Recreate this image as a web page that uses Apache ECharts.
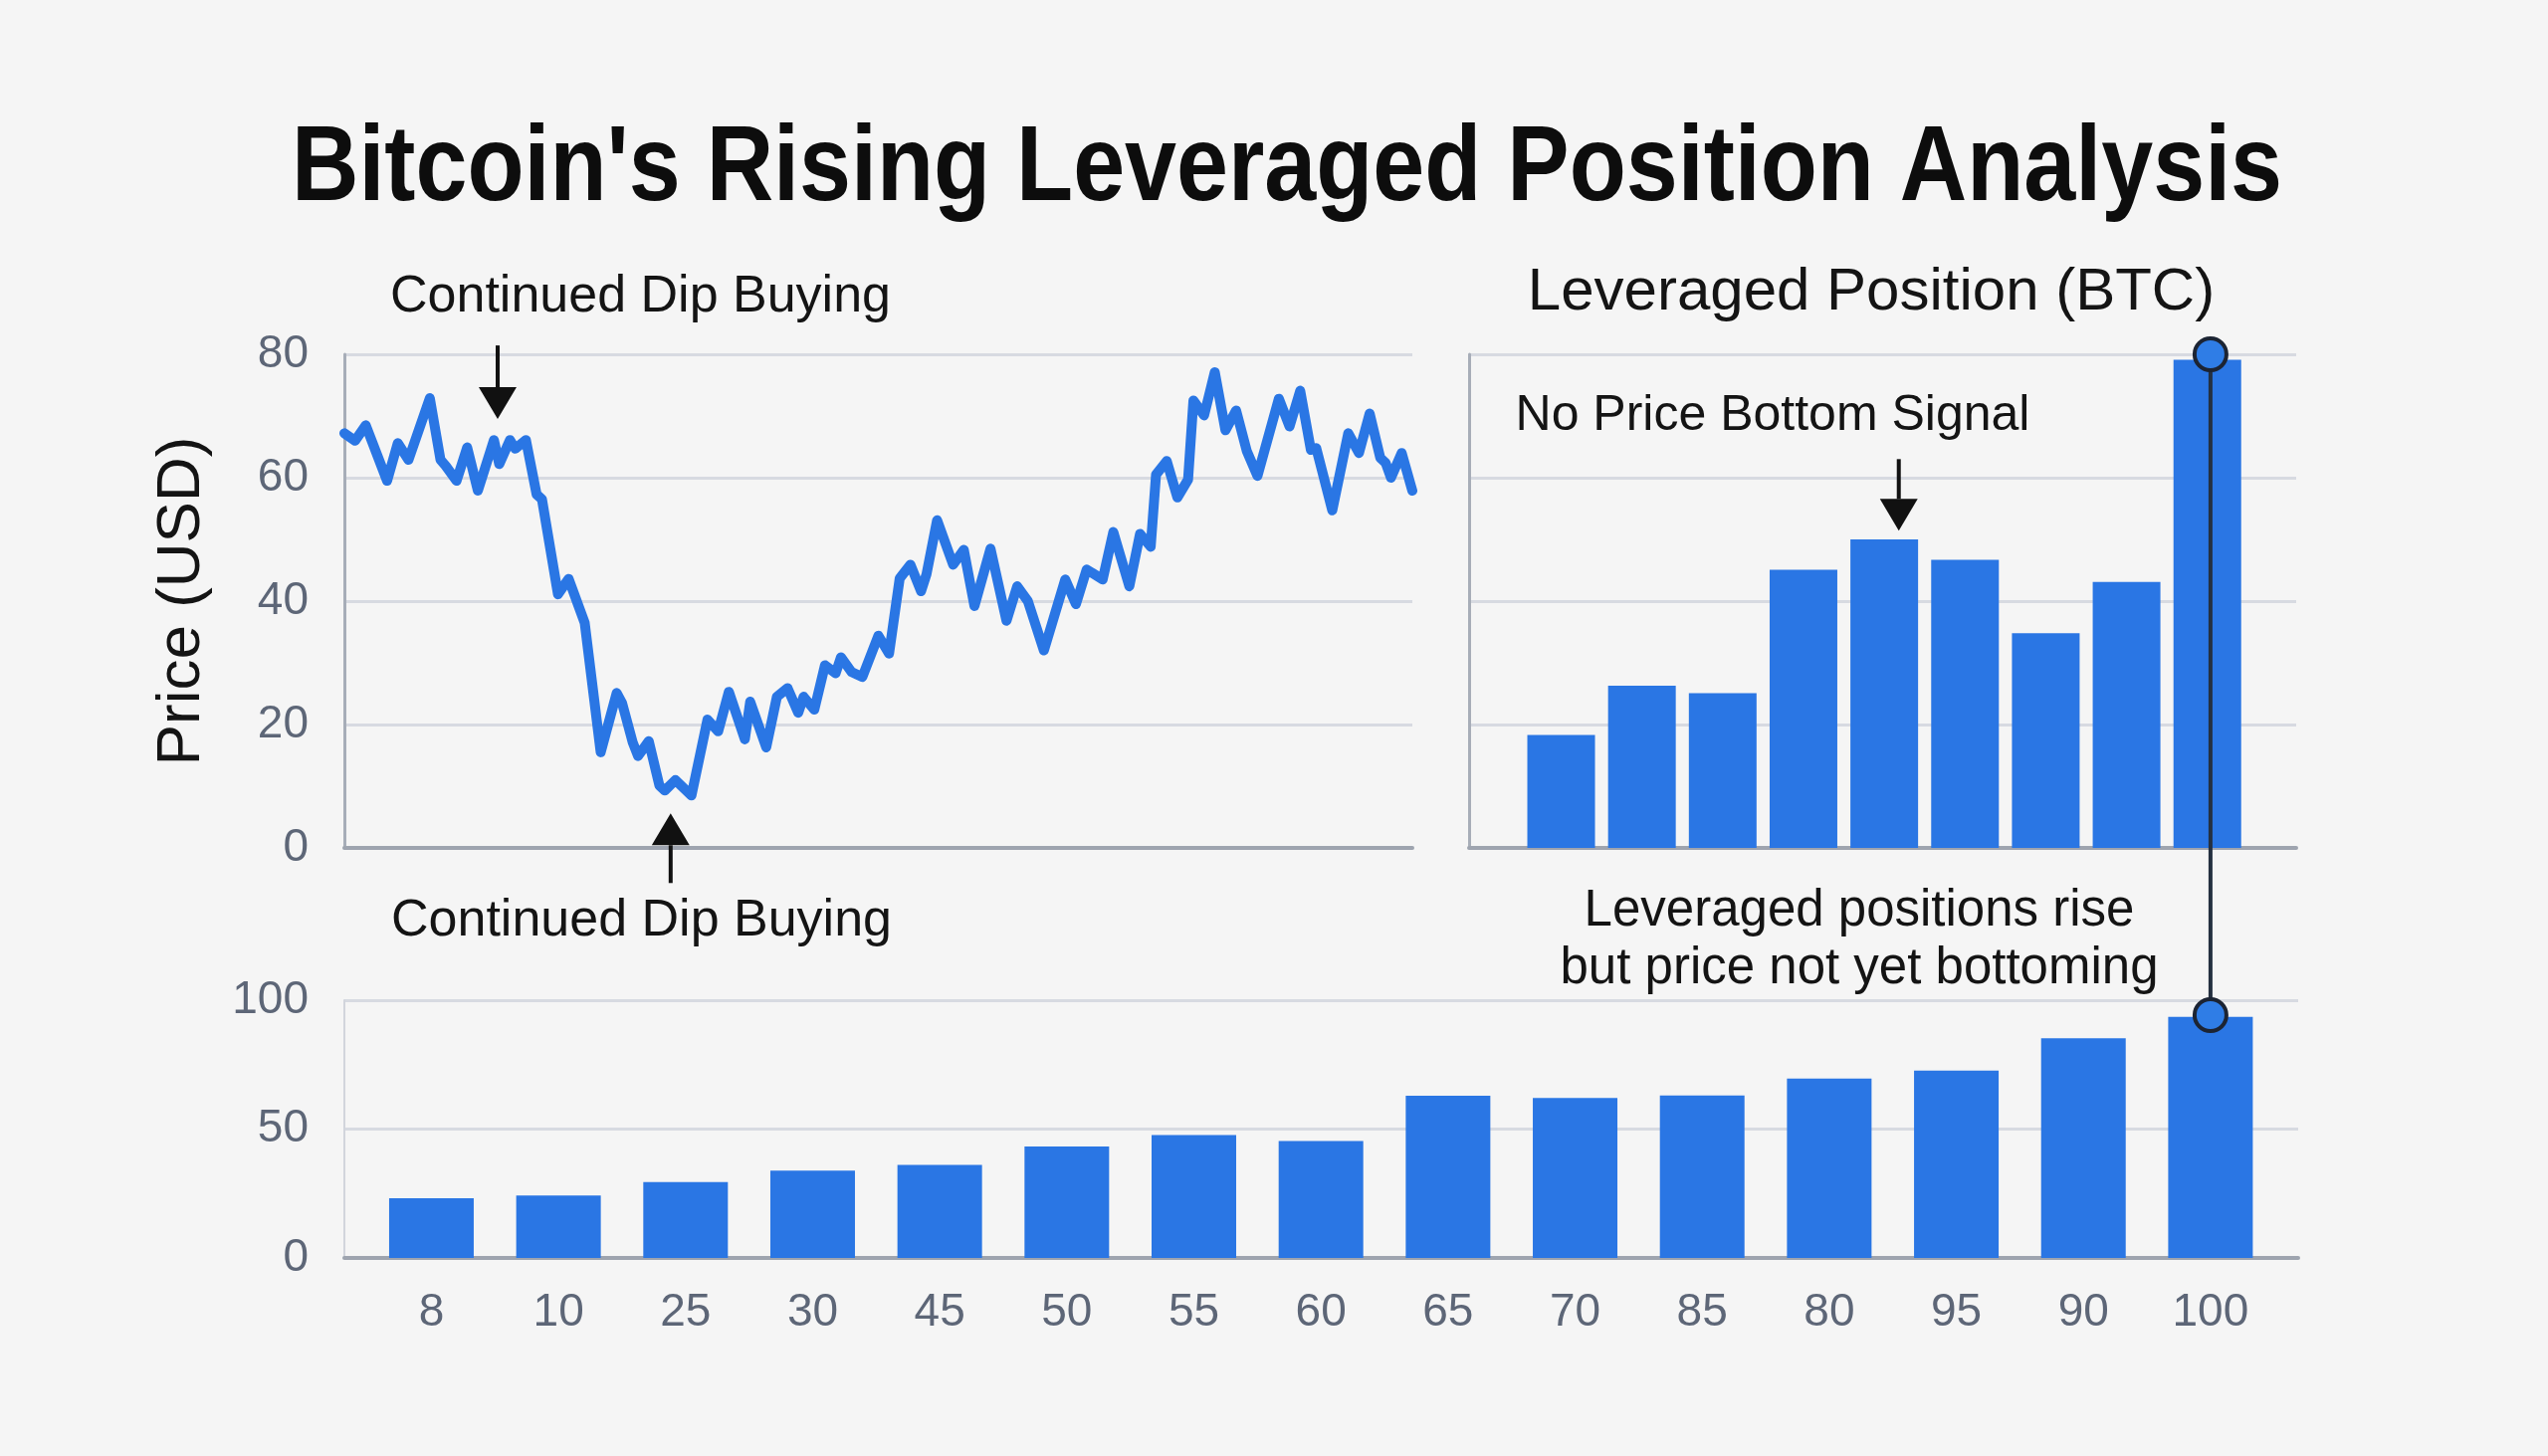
<!DOCTYPE html>
<html>
<head>
<meta charset="utf-8">
<title>Bitcoin's Rising Leveraged Position Analysis</title>
<script src="https://cdn.jsdelivr.net/npm/echarts@6/dist/echarts.min.js"></script>
<style>
    html, body {
        margin: 0;
        padding: 0;
        background-color: #f5f5f5;
    }

    #main {
        width: 2560px;
        height: 1463px;
    }
</style>
</head>
<body>
<div id="main"></div>
<script>
    // price line: position along the period (0-200) and price in USD
    var priceDays = [0, 2, 4, 8, 10, 12, 16, 18, 19, 21, 23, 25, 28, 29, 31, 32, 34, 36, 37, 40,
        42, 45, 48, 51, 52, 54, 55, 57, 59, 60, 62, 65, 68, 70, 72, 75, 76, 79, 81, 83,
        85, 86, 88, 90, 92, 93, 95, 97, 100, 102, 104, 106, 108, 109, 111, 114, 116, 118, 121, 124,
        126, 128, 131, 135, 137, 139, 140, 142, 144, 147, 149, 151, 152, 154, 156, 158, 159, 161, 163, 165,
        167, 169, 171, 175, 177, 179, 181, 182, 185, 188, 190, 192, 194, 195, 196, 198, 200];
    var priceValues = [67.2, 66.0, 68.5, 59.5, 65.6, 62.9, 72.9, 62.9, 61.9, 59.5, 64.9, 57.9, 66.1, 62.2, 66.1, 64.7, 66.1, 57.3, 56.5, 41.1,
        43.6, 36.5, 15.5, 25.1, 23.5, 17.1, 14.9, 17.3, 10.1, 9.3, 11.0, 8.5, 20.8, 18.9, 25.3, 17.6, 23.7, 16.3, 24.5, 25.9,
        21.9, 24.5, 22.4, 29.6, 28.3, 30.9, 28.5, 27.7, 34.4, 31.5, 43.7, 45.9, 41.6, 44.3, 53.1, 45.9, 48.3, 39.2, 48.5, 36.8,
        42.4, 40.0, 32.0, 43.5, 39.5, 45.1, 44.6, 43.5, 51.2, 42.4, 50.9, 48.8, 60.5, 62.7, 56.8, 59.7, 72.5, 70.1, 77.1, 67.7,
        70.9, 64.3, 60.3, 72.8, 68.3, 74.1, 64.5, 64.8, 54.7, 67.2, 64.0, 70.4, 63.2, 62.4, 60.0, 64.0, 57.9];

    // leveraged position (BTC), top right panel
    var levTopValues = [18.3, 26.3, 25.1, 45.1, 50.0, 46.7, 34.8, 43.1, 79.1];

    // bottom panel
    var levCategories = ['8', '10', '25', '30', '45', '50', '55', '60', '65', '70', '85', '80', '95', '90', '100'];
    var levValues = [23.2, 24.2, 29.4, 33.9, 36.1, 43.2, 47.7, 45.4, 62.9, 62.1, 63.0, 69.6, 72.7, 85.2, 93.5];

    // where the arrows point, in data coordinates of each panel
    var dipArrowTop = [28.7, 69.5];
    var dipArrowBottom = [61.1, 5.6];
    var signalArrow = [5.18, 51.4];
    var linkTop = 80;        // circle on the last top-right bar
    var linkBottom = 94.2;   // circle on the last bottom bar

    var font = "'Liberation Sans', Arial, sans-serif";
    var blue = '#2a76e4';
    var gridColor = '#d7dae1';
    var axisColor = '#9ea4af';
    var tickColor = '#5d6677';

    var chart = echarts.init(document.getElementById('main'));

    function hiddenX(grid, min, max) {
        return {
            gridIndex: grid,
            type: 'value',
            min: min,
            max: max,
            axisLine: {show: true, onZero: false, lineStyle: {color: axisColor, width: 4}},
            axisTick: {show: false},
            axisLabel: {show: false},
            splitLine: {show: false}
        };
    }

    var bottomX = hiddenX(2, -0.685, 14.69);
    bottomX.axisLabel = {
        show: true,
        customValues: levCategories.map(function (c, i) { return i; }),
        formatter: function (v) { return levCategories[Math.round(v)]; },
        fontSize: 46,
        fontFamily: font,
        color: tickColor,
        margin: 32
    };

    chart.setOption({
        backgroundColor: '#f5f5f5',
        animation: false,
        grid: [
            {left: 346, top: 356, width: 1073, height: 496},
            {left: 1476, top: 356, width: 831, height: 496},
            {left: 346, top: 1005, width: 1963, height: 259}
        ],
        xAxis: [
            hiddenX(0, 0, 200),
            hiddenX(1, -0.14, 10.1),
            bottomX
        ],
        yAxis: [
            {
                gridIndex: 0, type: 'value', min: 0, max: 80, interval: 20,
                axisLine: {show: true, onZero: false, lineStyle: {color: '#a7adb8', width: 3}},
                axisTick: {show: false},
                axisLabel: {fontSize: 46, fontFamily: font, color: tickColor, margin: 36},
                splitLine: {lineStyle: {color: gridColor, width: 3}}
            },
            {
                gridIndex: 1, type: 'value', min: 0, max: 80, interval: 20,
                axisLine: {show: true, onZero: false, lineStyle: {color: '#a7adb8', width: 3}},
                axisTick: {show: false},
                axisLabel: {show: false},
                splitLine: {lineStyle: {color: gridColor, width: 3}}
            },
            {
                gridIndex: 2, type: 'value', min: 0, max: 100, interval: 50,
                axisLine: {show: true, onZero: false, lineStyle: {color: '#d2d5dc', width: 2}},
                axisTick: {show: false},
                axisLabel: {fontSize: 46, fontFamily: font, color: tickColor, margin: 36},
                splitLine: {lineStyle: {color: gridColor, width: 3}}
            }
        ],
        series: [
            {
                type: 'line',
                xAxisIndex: 0,
                yAxisIndex: 0,
                data: priceDays.map(function (d, i) { return [d, priceValues[i]]; }),
                symbol: 'none',
                lineStyle: {color: blue, width: 10, join: 'round', cap: 'round'}
            },
            {
                type: 'bar',
                xAxisIndex: 1,
                yAxisIndex: 1,
                data: levTopValues.map(function (v, i) { return [i + 1, v]; }),
                barWidth: 68,
                itemStyle: {color: blue}
            },
            {
                type: 'bar',
                xAxisIndex: 2,
                yAxisIndex: 2,
                data: levValues.map(function (v, i) { return [i, v]; }),
                barWidth: 85,
                itemStyle: {color: blue}
            }
        ]
    });

    function px(grid, pt) {
        return chart.convertToPixel({gridIndex: grid}, pt);
    }

    // arrow with its tip at p; dir 1 points down, -1 points up
    function arrow(p, dir, shaft) {
        var head = 32, half = 19;
        var base = p[1] - dir * head;
        return [
            {
                type: 'line',
                z: 100,
                shape: {x1: p[0], y1: base, x2: p[0], y2: base - dir * shaft},
                style: {stroke: '#111111', lineWidth: 4}
            },
            {
                type: 'polygon',
                z: 100,
                shape: {points: [[p[0], p[1]], [p[0] - half, base], [p[0] + half, base]]},
                style: {fill: '#111111'}
            }
        ];
    }

    function label(text, x, y, size, opts) {
        var el = {
            type: 'text',
            z: 100,
            x: x,
            y: y,
            style: {
                text: text,
                fontSize: size,
                fontFamily: font,
                fill: '#141414',
                align: 'center',
                verticalAlign: 'middle'
            }
        };
        if (opts) {
            for (var k in opts) {
                if (k === 'rotation' || k === 'scaleX') {
                    el[k] = opts[k];
                } else {
                    el.style[k] = opts[k];
                }
            }
        }
        return el;
    }

    var bottomDot = px(2, [levCategories.length - 1, linkBottom]);
    var topDot = px(1, [levTopValues.length, linkTop]);
    var dotX = bottomDot[0];

    var elements = [
        // the title is set in a condensed bold face: squeeze it horizontally
        label("Bitcoin's Rising Leveraged Position Analysis", 1293, 171, 108, {
            fontWeight: 'bold',
            fill: '#0d0d0d',
            scaleX: 0.865
        }),
        label('Continued Dip Buying', 392, 299, 52, {align: 'left'}),
        label('Continued Dip Buying', 393, 926, 52, {align: 'left'}),
        label('Leveraged Position (BTC)', 1880, 294, 60),
        label('No Price Bottom Signal', 1781, 418, 50),
        label('Leveraged positions rise\nbut price not yet bottoming', 1868, 945, 51, {lineHeight: 58}),
        label('Price (USD)', 183, 604, 62, {rotation: Math.PI / 2})
    ];

    elements = elements
        .concat(arrow(px(0, dipArrowTop), 1, 42))
        .concat(arrow(px(0, dipArrowBottom), -1, 38))
        .concat(arrow(px(1, signalArrow), 1, 40));

    elements.push({
        type: 'line',
        z: 100,
        shape: {x1: dotX, y1: topDot[1], x2: dotX, y2: bottomDot[1]},
        style: {stroke: '#243040', lineWidth: 4}
    });
    [topDot[1], bottomDot[1]].forEach(function (y) {
        elements.push({
            type: 'circle',
            z: 101,
            shape: {cx: dotX, cy: y, r: 16},
            style: {fill: '#2f7de6', stroke: '#1c2433', lineWidth: 4}
        });
    });

    chart.setOption({graphic: {elements: elements}});
</script>
</body>
</html>
